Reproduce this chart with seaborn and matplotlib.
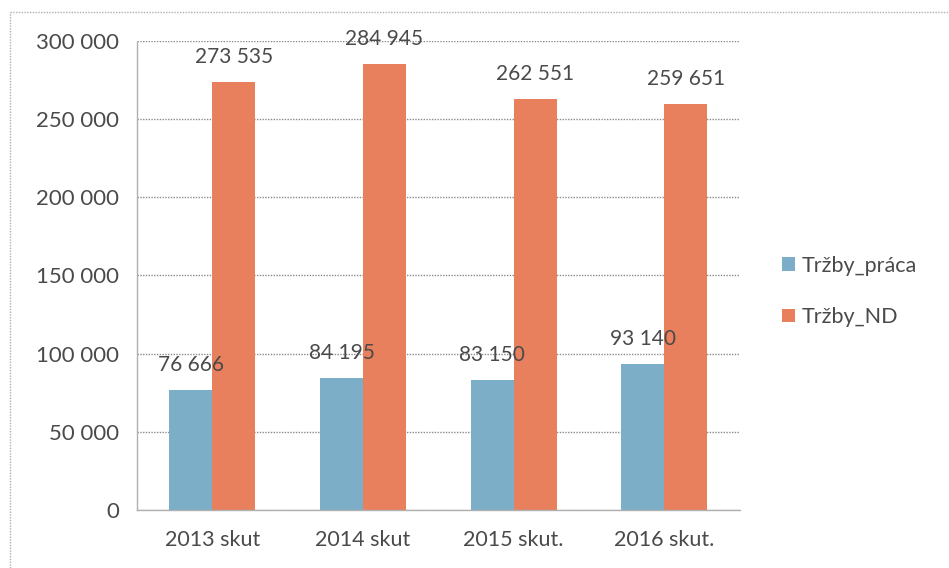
import pandas as pd
import numpy as np
import seaborn as sns
import matplotlib.pyplot as plt
from matplotlib.ticker import FuncFormatter, FixedLocator
from matplotlib.lines import Line2D

# Data
kategorie = ['2013 skut', '2014 skut', '2015 skut.', '2016 skut.']
trzby_praca = [76666, 84195, 83150, 93140]
trzby_nd = [273535, 284945, 262551, 259651]
serie = ['Tržby_práca', 'Tržby_ND']
farby = ['#7DAEC7', '#E8805D']

df = pd.DataFrame({
    'rok': kategorie * 2,
    'hodnota': trzby_praca + trzby_nd,
    'seria': [serie[0]] * len(kategorie) + [serie[1]] * len(kategorie),
})

def medzery(v, pos=None):
    return f"{int(round(v)):,}".replace(',', ' ')

sns.set_style('white')
plt.rcParams['font.family'] = ['Lato', 'DejaVu Sans']
text_farba = '#4a4a4a'

fig = plt.figure(figsize=(9.49, 5.68), dpi=100)
ax = fig.add_axes([0.1444, 0.102, 0.635, 0.826])

sns.barplot(data=df, x='rok', y='hodnota', hue='seria', palette=farby,
            width=0.57, gap=0, saturation=1, ax=ax, legend=True,
            edgecolor='none', linewidth=0)

for c in ax.containers:
    ax.bar_label(c, labels=[medzery(v) for v in c.datavalues], padding=11,
                 fontsize=15, color=text_farba)

ax.set_ylim(0, 300000)
ax.set_xlim(-0.5, 3.5)
ax.yaxis.set_major_locator(FixedLocator(np.arange(0, 300001, 50000)))
ax.yaxis.set_major_formatter(FuncFormatter(medzery))
ax.yaxis.grid(True, linestyle=(0, (1, 1)), color='#8a8a8a', linewidth=1)
ax.set_axisbelow(True)
ax.set_xlabel('')
ax.set_ylabel('')

# tick marks between categories
ax.set_xticks(np.arange(-0.5, 4, 1), minor=True)
ax.tick_params(axis='x', which='minor', length=7, color='#a0a0a0', direction='out')
ax.tick_params(axis='x', which='major', length=0, labelsize=15.5, colors=text_farba, pad=14)
ax.tick_params(axis='y', length=5, color='#a0a0a0', direction='out', labelsize=16,
               colors=text_farba, pad=8)

for s in ['top', 'right']:
    ax.spines[s].set_visible(False)
for s in ['left', 'bottom']:
    ax.spines[s].set_color('#b0b0b0')
    ax.spines[s].set_linestyle((0, (1, 1)))
    ax.spines[s].set_linewidth(1)

leg = ax.legend(loc='center left', bbox_to_anchor=(0.815, 0.487), bbox_transform=fig.transFigure,
                frameon=False, fontsize=15.5, handlelength=0.6, handleheight=0.6,
                handletextpad=0.3, labelspacing=1.45, borderaxespad=0)
for t in leg.get_texts():
    t.set_color(text_farba)

# outer chart border (dotted)
fig.add_artist(Line2D([0.011, 1.0], [0.979, 0.979], transform=fig.transFigure,
                      color='#b0b0b0', linestyle=(0, (1, 1)), linewidth=1))
fig.add_artist(Line2D([0.011, 0.011], [0.0, 0.979], transform=fig.transFigure,
                      color='#b0b0b0', linestyle=(0, (1, 1)), linewidth=1))

fig.savefig('out.png', dpi=100, facecolor='white')
